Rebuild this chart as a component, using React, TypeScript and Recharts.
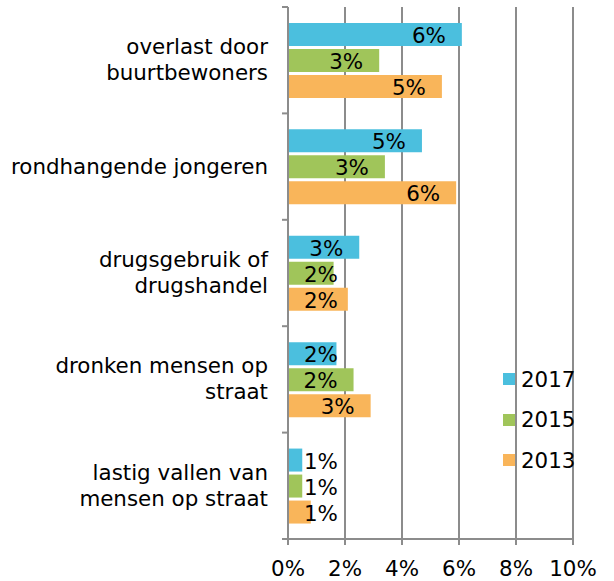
import React from 'react';
import {
  BarChart,
  Bar,
  XAxis,
  YAxis,
  CartesianGrid,
  Legend,
  LabelList
} from 'recharts';

// Categories (line breaks where the reference wraps the label)
const categories = [
  'overlast door\nbuurtbewoners',
  'rondhangende jongeren',
  'drugsgebruik of\ndrugshandel',
  'dronken mensen op\nstraat',
  'lastig vallen van\nmensen op straat'
];

// percentages
const values2017 = [6.1, 4.7, 2.5, 1.7, 0.5];
const values2015 = [3.2, 3.4, 1.6, 2.3, 0.5];
const values2013 = [5.4, 5.9, 2.1, 2.9, 0.8];

const seriesNames = ['2017', '2015', '2013'];
const xTicks = [0, 2, 4, 6, 8, 10];

const FONT = '"DejaVu Sans", Verdana, sans-serif';
const FS = 21.4;
const GRID = '#8c8c8c';
const color2017 = '#4bbfde';
const color2015 = '#a0c55a';
const color2013 = '#f9b55a';

const chartData = categories.map((name, i) => ({
  name,
  y2017: values2017[i],
  y2015: values2015[i],
  y2013: values2013[i]
}));

const CategoryTick = ({ x, y, payload, index, visibleTicksCount }: any) => {
  const lines: string[] = String(payload.value).split('\n');
  const half = payload.offset || 53.2;
  const axisX = x + 20;
  const lineH = 26;
  const startDy = -((lines.length - 1) / 2) * lineH;
  return (
    <g>
      <line x1={axisX - 6} x2={axisX} y1={y - half} y2={y - half} stroke={GRID} strokeWidth={2} />
      {index === (visibleTicksCount ?? categories.length) - 1 && (
        <line x1={axisX - 6} x2={axisX} y1={y + half} y2={y + half} stroke={GRID} strokeWidth={2} />
      )}
      <text x={x} y={y} textAnchor="end" fontSize={FS} fontFamily={FONT} fill="#000">
        {lines.map((l, i) => (
          <tspan key={i} x={x} dy={i === 0 ? startDy + 7 : lineH}>{l}</tspan>
        ))}
      </text>
    </g>
  );
};

const BarValueLabel = (props: any) => {
  const { x, y, width, height, value } = props;
  const text = Math.round(value) + '%';
  const pad = 16;
  const est = 33;
  const anchorStart = width - pad - est < pad;
  return (
    <text
      x={anchorStart ? x + pad : x + width - pad}
      y={y + height / 2 + 1}
      textAnchor={anchorStart ? 'start' : 'end'}
      dominantBaseline="central"
      fontSize={FS}
      fontFamily={FONT}
      fill="#000"
    >
      {text}
    </text>
  );
};

const LegendContent = ({ payload }: any) => {
  const items = [...(payload || [])].sort(
    (a: any, b: any) => seriesNames.indexOf(a.value) - seriesNames.indexOf(b.value)
  );
  return (
    <div style={{ fontFamily: FONT, fontSize: FS, color: '#000' }}>
      {items.map((p: any) => (
        <div key={p.value} style={{ display: 'flex', alignItems: 'center', height: 40.5 }}>
          <span style={{ width: 12, height: 12, background: p.color, display: 'inline-block', marginRight: 6 }} />
          <span>{p.value}</span>
        </div>
      ))}
    </div>
  );
};

export default function App() {
  return (
    <div style={{ position: 'absolute', left: 0, top: 0, background: '#fff' }}>
      <BarChart
        width={614}
        height={581}
        data={chartData}
        layout="vertical"
        margin={{ top: 7, right: 41, bottom: 0, left: 0 }}
        barCategoryGap="15%"
        barGap={3}
      >
        <CartesianGrid horizontal={false} stroke={GRID} strokeWidth={2} strokeOpacity={1} />
        <XAxis
          type="number"
          domain={[0, 10]}
          ticks={xTicks}
          tickFormatter={(v) => v + '%'}
          height={42}
          tickSize={6}
          tickMargin={16}
          axisLine={{ stroke: GRID, strokeWidth: 2 }}
          tickLine={{ stroke: GRID, strokeWidth: 2 }}
          tick={{ fontSize: FS, fontFamily: FONT, fill: '#000' }}
          interval={0}
        />
        <YAxis
          type="category"
          dataKey="name"
          width={288}
          tickSize={0}
          tickMargin={20}
          tickLine={false}
          axisLine={{ stroke: GRID, strokeWidth: 2 }}
          tick={<CategoryTick />}
          interval={0}
        />
        <Legend
          layout="horizontal"
          verticalAlign="middle"
          align="center"
          content={<LegendContent />}
          wrapperStyle={{ position: 'absolute', left: 503, top: 359, width: 100, height: 122 }}
        />
        <Bar dataKey="y2017" name="2017" fill={color2017} isAnimationActive={false}>
          <LabelList dataKey="y2017" content={<BarValueLabel />} />
        </Bar>
        <Bar dataKey="y2015" name="2015" fill={color2015} isAnimationActive={false}>
          <LabelList dataKey="y2015" content={<BarValueLabel />} />
        </Bar>
        <Bar dataKey="y2013" name="2013" fill={color2013} isAnimationActive={false}>
          <LabelList dataKey="y2013" content={<BarValueLabel />} />
        </Bar>
      </BarChart>
    </div>
  );
}
